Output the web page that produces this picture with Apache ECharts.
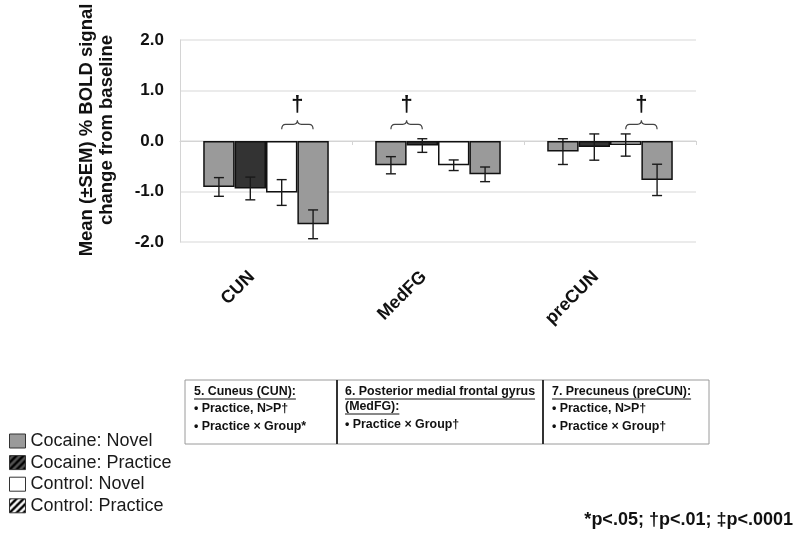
<!DOCTYPE html>
<html>
<head>
<meta charset="utf-8">
<script src="https://cdn.jsdelivr.net/npm/echarts@6/dist/echarts.min.js"></script>
<style>
html,body{margin:0;padding:0;background:#fff;}
#chart{width:800px;height:534px;}
</style>
</head>
<body>
<div id="chart"></div>
<script>
// ---- data ----
const categories = ['CUN', 'MedFG', 'preCUN'];
const seriesNames = ['Cocaine: Novel', 'Cocaine: Practice', 'Control: Novel', 'Control: Practice'];
const cocaineNovel = [-0.91, -0.48, -0.21];
const cocaineNovelSem = [0.185, 0.17, 0.255];
const cocainePractice = [-0.94, -0.09, -0.12];
const cocainePracticeSem = [0.225, 0.135, 0.26];
const controlNovel = [-1.02, -0.48, -0.08];
const controlNovelSem = [0.255, 0.105, 0.22];
const controlPractice = [-1.65, -0.66, -0.77];
const controlPracticeSem = [0.285, 0.145, 0.31];
const yTicks = [-2, -1, 0, 1, 2];
// significance braces: [category index, first bar, last bar]
const braces = [[0, 2, 3], [1, 0, 1], [2, 2, 3]];
const braceLevel = 0.33;
const daggerLevel = 0.72;

const barValues = [cocaineNovel, cocainePractice, controlNovel, controlPractice];
const barSems = [cocaineNovelSem, cocainePracticeSem, controlNovelSem, controlPracticeSem];
const barColors = ['#9a9a9a', '#333333', '#ffffff', '#9a9a9a'];
const CAT_GAP = 0.27;

function hatch(bg, fg) {
  const c = document.createElement('canvas');
  c.width = c.height = 7;
  const g = c.getContext('2d');
  g.fillStyle = bg; g.fillRect(0, 0, 7, 7);
  g.strokeStyle = fg; g.lineWidth = 2.4;
  g.beginPath();
  g.moveTo(-1, 8); g.lineTo(8, -1);
  g.moveTo(-4, 4); g.lineTo(4, -4);
  g.moveTo(3, 11); g.lineTo(11, 3);
  g.stroke();
  return c;
}
const legendFills = ['#9a9a9a', {image: hatch('#555', '#000'), repeat: 'repeat'}, '#ffffff', {image: hatch('#fff', '#000'), repeat: 'repeat'}];

const chart = echarts.init(document.getElementById('chart'), null, {renderer: 'canvas'});

const barSeries = seriesNames.map((n, i) => ({
  name: n,
  type: 'bar',
  xAxisIndex: 0,
  data: barValues[i],
  barGap: '0%',
  barCategoryGap: (CAT_GAP * 100) + '%',
  itemStyle: {color: barColors[i], borderColor: '#111', borderWidth: 1.5},
  emphasis: {disabled: true},
  animation: false
}));

const errData = [];
barValues.forEach((vals, s) => vals.forEach((v, c) => errData.push([c, v - barSems[s][c], v + barSems[s][c], s])));

const errSeries = {
  type: 'custom',
  xAxisIndex: 0,
  data: errData,
  silent: true,
  animation: false,
  z: 5,
  renderItem: function (params, api) {
    const c = api.value(0);
    const lo = api.coord([c, api.value(1)]);
    const hi = api.coord([c, api.value(2)]);
    const catW = api.size([1, 0])[0];
    const bw = catW * (1 - CAT_GAP) / 4;
    const x = lo[0] + (api.value(3) - 1.5) * bw;
    const hw = 5;
    const st = {stroke: '#1a1a1a', lineWidth: 1.4, fill: null};
    return {type: 'group', children: [
      {type: 'line', shape: {x1: x, y1: lo[1], x2: x, y2: hi[1]}, style: st},
      {type: 'line', shape: {x1: x - hw, y1: lo[1], x2: x + hw, y2: lo[1]}, style: st},
      {type: 'line', shape: {x1: x - hw, y1: hi[1], x2: x + hw, y2: hi[1]}, style: st}
    ]};
  }
};

const braceSeries = {
  type: 'custom',
  xAxisIndex: 0,
  data: braces,
  silent: true,
  animation: false,
  z: 6,
  renderItem: function (params, api) {
    const c = api.value(0);
    const p = api.coord([c, braceLevel]);
    const d = api.coord([c, daggerLevel]);
    const catW = api.size([1, 0])[0];
    const bw = catW * (1 - CAT_GAP) / 4;
    const x0 = p[0] + (api.value(1) - 1.5) * bw;
    const x1 = p[0] + (api.value(2) - 1.5) * bw;
    const xc = (x0 + x1) / 2;
    const y = p[1];
    const path = 'M' + x0 + ' ' + (y + 5) + ' Q' + x0 + ' ' + y + ' ' + (x0 + 4) + ' ' + y +
      ' L' + (xc - 4) + ' ' + y + ' Q' + xc + ' ' + y + ' ' + xc + ' ' + (y - 4) +
      ' Q' + xc + ' ' + y + ' ' + (xc + 4) + ' ' + y +
      ' L' + (x1 - 4) + ' ' + y + ' Q' + x1 + ' ' + y + ' ' + x1 + ' ' + (y + 5);
    return {type: 'group', children: [
      {type: 'path', shape: {pathData: path}, style: {stroke: '#444', lineWidth: 1.2, fill: null}},
      {type: 'text', style: {text: '\u2020', x: xc, y: d[1], align: 'center', verticalAlign: 'middle',
        font: 'bold 22px "Liberation Sans", Arial, sans-serif', fill: '#111'}}
    ]};
  }
};

// text boxes below the chart
const F = '"Liberation Sans", Arial, sans-serif';
const boxFont = 'bold 12.4px ' + F;
const measure = document.createElement('canvas').getContext('2d');
function tw(t, font) { measure.font = font; return measure.measureText(t).width; }
function txt(t, x, y, font, underline) {
  const els = [{type: 'text', style: {text: t, x: x, y: y, font: font, fill: '#111', verticalAlign: 'middle'}}];
  if (underline) {
    els.push({type: 'line', shape: {x1: x, y1: y + 7, x2: x + tw(t, font), y2: y + 7}, style: {stroke: '#111', lineWidth: 1}});
  }
  return els;
}
const graphics = [
  {type: 'rect', shape: {x: 185, y: 380, width: 524, height: 64}, style: {fill: '#fff', stroke: '#9a9a9a', lineWidth: 1}},
  {type: 'line', shape: {x1: 337, y1: 380, x2: 337, y2: 444}, style: {stroke: '#333', lineWidth: 2}},
  {type: 'line', shape: {x1: 543, y1: 380, x2: 543, y2: 444}, style: {stroke: '#333', lineWidth: 2}}
].concat(
  txt('5. Cuneus (CUN):', 194, 392, boxFont, true),
  txt('\u2022 Practice, N>P\u2020', 194, 409, boxFont, false),
  txt('\u2022 Practice \u00d7 Group*', 194, 427, boxFont, false),
  txt('6. Posterior medial frontal gyrus', 345, 392, boxFont, true),
  txt('(MedFG):', 345, 407, boxFont, true),
  txt('\u2022 Practice \u00d7 Group\u2020', 345, 425, boxFont, false),
  txt('7. Precuneus (preCUN):', 552, 392, boxFont, true),
  txt('\u2022 Practice, N>P\u2020', 552, 409, boxFont, false),
  txt('\u2022 Practice \u00d7 Group\u2020', 552, 427, boxFont, false),
  [
    {type: 'text', style: {text: '*p<.05; \u2020p<.01; \u2021p<.0001', x: 793, y: 520, align: 'right', verticalAlign: 'middle',
      font: 'bold 18px ' + F, fill: '#111'}},
    {type: 'text', rotation: Math.PI / 2, x: 97, y: 130, style: {text: 'Mean (\u00b1SEM) % BOLD signal\nchange from baseline',
      x: 0, y: 0, align: 'center', verticalAlign: 'middle', lineHeight: 20,
      font: 'bold 18.5px ' + F, fill: '#111'}}
  ]
);

chart.setOption({
  animation: false,
  grid: {left: 180, right: 104, top: 40, bottom: 292, containLabel: false},
  legend: {
    orient: 'vertical', left: 9, top: 432, itemWidth: 16, itemHeight: 14, itemGap: 3.6, padding: 0,
    selectedMode: false,
    textStyle: {fontSize: 18, color: '#1a1a1a', fontFamily: F},
    data: seriesNames.map((n, i) => ({name: n, icon: 'rect', itemStyle: {color: legendFills[i], borderColor: '#333', borderWidth: 1}}))
  },
  xAxis: [
    {type: 'category', data: categories, position: 'bottom',
      axisLine: {show: true, onZero: true, lineStyle: {color: '#d4d4d4', width: 1}},
      axisTick: {show: true, length: 4, lineStyle: {color: '#d4d4d4'}},
      axisLabel: {show: false}, splitLine: {show: false}},
    {type: 'category', data: categories, position: 'bottom',
      axisLine: {show: false, onZero: false}, axisTick: {show: false}, splitLine: {show: false},
      axisLabel: {show: true, rotate: 45, margin: 18, padding: [0, 20, 0, 0], interval: 0,
        fontSize: 18, fontWeight: 'bold', color: '#111', fontFamily: F}}
  ],
  yAxis: {
    type: 'value', min: yTicks[0], max: yTicks[yTicks.length - 1], interval: 1,
    axisLine: {show: true, lineStyle: {color: '#d4d4d4'}},
    axisTick: {show: false},
    splitLine: {show: true, lineStyle: {color: '#e4e4e4', width: 1.5}},
    axisLabel: {margin: 16, fontSize: 17, fontWeight: 'bold', color: '#111', fontFamily: F,
      formatter: v => v.toFixed(1)}
  },
  series: barSeries.concat([errSeries, braceSeries]),
  graphic: graphics
});
</script>
</body>
</html>
